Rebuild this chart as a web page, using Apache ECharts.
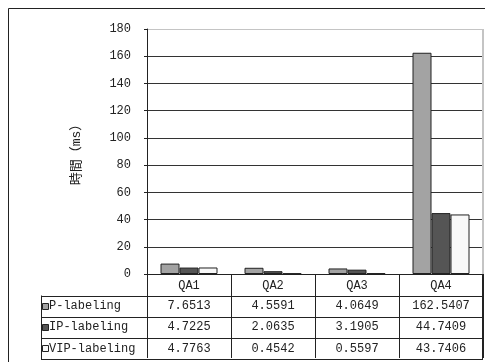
<!DOCTYPE html>
<html>
<head>
<meta charset="utf-8">
<script src="https://cdn.jsdelivr.net/npm/echarts@6/dist/echarts.min.js"></script>
<style>
  html, body { margin: 0; padding: 0; background: #fff; }
  #chart { width: 485px; height: 362px; }
</style>
</head>
<body>
<div id="chart"></div>
<script>
// Query processing time per labeling scheme
const categories = ['QA1', 'QA2', 'QA3', 'QA4'];
const seriesNames = ['P-labeling', 'IP-labeling', 'VIP-labeling'];
const pLabeling = [7.6513, 4.5591, 4.0649, 162.5407];
const ipLabeling = [4.7225, 2.0635, 3.1905, 44.7409];
const vipLabeling = [4.7763, 0.4542, 0.5597, 43.7406];
const yTicks = [0, 20, 40, 60, 80, 100, 120, 140, 160, 180];

const seriesValues = [pLabeling, ipLabeling, vipLabeling];
const seriesColors = ['#a3a3a3', '#555555', '#f8f8f8'];
const FONT = "'Liberation Mono', 'Noto Sans CJK JP', monospace";
const INK = '#222';

const GRID = { left: 147, top: 29, right: 2, bottom: 88 };
const TABLE_LEFT = 41;
const ROW_H = 21.5;

const chart = echarts.init(document.getElementById('chart'), null, { renderer: 'canvas' });

const option = {
  animation: false,
  backgroundColor: '#fff',
  grid: GRID,
  xAxis: {
    type: 'category',
    data: categories,
    axisLine: { lineStyle: { color: INK, width: 1 } },
    axisTick: { show: true, length: 84, lineStyle: { color: INK, width: 1 } },
    axisLabel: { margin: 6, color: INK, fontFamily: FONT, fontSize: 12 }
  },
  yAxis: {
    type: 'value',
    min: yTicks[0],
    max: yTicks[yTicks.length - 1],
    interval: yTicks[1] - yTicks[0],
    name: '時間（ms）',
    nameLocation: 'middle',
    nameRotate: 90,
    nameGap: 64,
    nameTextStyle: { color: INK, fontFamily: FONT, fontSize: 13 },
    axisLine: { show: true, lineStyle: { color: INK } },
    axisTick: { show: true, length: 3, lineStyle: { color: INK } },
    axisLabel: { margin: 16, color: INK, fontFamily: FONT, fontSize: 12 },
    splitLine: {
      show: true,
      lineStyle: {
        color: yTicks.map((t, i) => (i === yTicks.length - 1 ? '#c4c4c4' : '#333')),
        width: 1
      }
    }
  },
  series: seriesNames.map((name, i) => ({
    name,
    type: 'bar',
    data: seriesValues[i],
    barWidth: 19,
    barGap: '0%',
    itemStyle: { color: seriesColors[i], borderColor: INK, borderWidth: 1 }
  }))
};

chart.setOption(option);

// Data table under the plot, aligned with the category columns
function buildTable() {
  const axisY = chart.convertToPixel({ yAxisIndex: 0 }, 0);
  const plotRight = 485 - GRID.right;
  const headerBottom = axisY + ROW_H;
  const elements = [];

  // outer chart frame
  elements.push({
    type: 'rect',
    shape: { x: 8.5, y: 8.5, width: 500, height: 400 },
    style: { fill: null, stroke: INK, lineWidth: 1 },
    silent: true
  });

  // right edge of the plot area
  elements.push({
    type: 'line',
    shape: { x1: plotRight, y1: GRID.top, x2: plotRight, y2: axisY },
    style: { stroke: '#c4c4c4', lineWidth: 2 }
  });

  // horizontal rules of the table body
  for (let r = 0; r <= seriesNames.length; r++) {
    const y = Math.round(headerBottom + r * ROW_H * 0.985) + 0.5;
    elements.push({
      type: 'line',
      shape: { x1: TABLE_LEFT, y1: y, x2: plotRight, y2: y },
      style: { stroke: INK, lineWidth: 1 }
    });
  }
  const tableBottom = Math.round(headerBottom + seriesNames.length * ROW_H * 0.985) + 0.5;

  // left and right table borders
  elements.push({
    type: 'line',
    shape: { x1: TABLE_LEFT + 0.5, y1: headerBottom, x2: TABLE_LEFT + 0.5, y2: tableBottom },
    style: { stroke: INK, lineWidth: 1 }
  });
  elements.push({
    type: 'line',
    shape: { x1: plotRight - 0.5, y1: axisY, x2: plotRight - 0.5, y2: tableBottom },
    style: { stroke: INK, lineWidth: 1 }
  });

  seriesNames.forEach((name, r) => {
    const cy = headerBottom + (r + 0.5) * ROW_H * 0.985;
    // legend key
    elements.push({
      type: 'rect',
      shape: { x: TABLE_LEFT + 1.5, y: Math.round(cy - 3) + 0.5, width: 6, height: 6 },
      style: { fill: seriesColors[r], stroke: INK, lineWidth: 1 }
    });
    elements.push({
      type: 'text',
      x: TABLE_LEFT + 8,
      y: cy,
      style: { text: name, fill: INK, font: '12px ' + FONT, textAlign: 'left', textVerticalAlign: 'middle' }
    });
    categories.forEach((cat, c) => {
      const cx = chart.convertToPixel({ xAxisIndex: 0 }, cat);
      elements.push({
        type: 'text',
        x: cx,
        y: cy,
        style: {
          text: String(seriesValues[r][c].toFixed(4)),
          fill: INK,
          font: '12px ' + FONT,
          textAlign: 'center',
          textVerticalAlign: 'middle'
        }
      });
    });
  });

  chart.setOption({ graphic: { elements } });
}

buildTable();
</script>
</body>
</html>
